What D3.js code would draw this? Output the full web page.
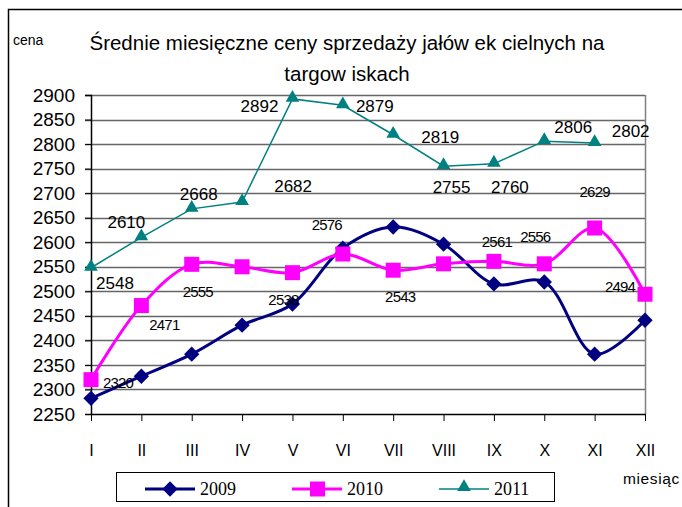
<!DOCTYPE html>
<html>
<head>
<meta charset="utf-8">
<script src="https://cdn.jsdelivr.net/npm/d3@7"></script>
<style>
  html, body { margin: 0; padding: 0; background: #fff; }
  svg { display: block; font-family: "Liberation Sans", Arial, sans-serif; }
</style>
</head>
<body>
<svg id="chart" width="682" height="507"></svg>
<script>
// ---- data ----
const months = ["I","II","III","IV","V","VI","VII","VIII","IX","X","XI","XII"];
const yTicks = [2250,2300,2350,2400,2450,2500,2550,2600,2650,2700,2750,2800,2850,2900];
const s2009 = [2282, 2327, 2372, 2431, 2474, 2588, 2631, 2596, 2515, 2519, 2372, 2441];
const s2010 = [2320, 2471, 2555, 2550, 2538, 2576, 2543, 2556, 2561, 2556, 2629, 2494];
const s2011 = [2548, 2610, 2668, 2682, 2892, 2879, 2819, 2755, 2760, 2806, 2802, null];
const labels2010 = ["2320","2471","2555",null,"2538","2576","2543",null,"2561","2556","2629","2494"];
const labels2011 = ["2548","2610","2668","2682","2892","2879","2819","2755","2760","2806","2802",null];
const seriesNames = ["2009","2010","2011"];

// label offsets (dx, dy relative to the point)
const off2010 = [[27,8],[23,24],[6,33],null,[-9,32],[-16,-24],[7,32],null,[3,-14],[-9,-22],[0,-31],[-25,-2]];
const off2011 = [[24,21],[-15,-9],[7,-9],[51,-10],[-33,13],[32,7],[47,8],[8,27],[16,29],[29,-8],[36,-6],null];

const svg = d3.select("#chart");
const X0 = 91, X1 = 645, Y0 = 414, Y1 = 95;
const x = d3.scalePoint().domain(months).range([X0, X1]);
const y = d3.scaleLinear().domain([2250, 2900]).range([Y0, Y1]);

// outer frame (left and top edges)
svg.append("path").attr("d", "M8.5,507 V9.5 H682").attr("fill","none").attr("stroke","#000").attr("stroke-width",1.5);

// gridlines
svg.append("g").selectAll("line").data(yTicks.slice(1)).join("line")
  .attr("x1", X0 - 6).attr("x2", X1)
  .attr("y1", d => Math.round(y(d)) + 0.5).attr("y2", d => Math.round(y(d)) + 0.5)
  .attr("stroke", "#666").attr("stroke-width", 1.5);
// right border of plot
svg.append("line").attr("x1", X1 + 0.5).attr("x2", X1 + 0.5).attr("y1", y(2900)).attr("y2", Y0)
  .attr("stroke", "#808080").attr("stroke-width", 1.5);

// y axis
const yAxis = d3.axisLeft(y).tickValues(yTicks).tickSize(6).tickPadding(10).tickFormat(d3.format("d"));
const gy = svg.append("g").attr("transform", `translate(${X0},0)`).call(yAxis);
gy.select(".domain").attr("stroke", "#000").attr("stroke-width", 1.5);
gy.selectAll(".tick line").attr("stroke", "#000");
gy.selectAll("text").attr("font-size", 19).attr("fill", "#000").attr("font-family", "Liberation Sans, Arial, sans-serif");

// x axis
const xAxis = d3.axisBottom(x).tickSize(7).tickPadding(24).tickSizeOuter(0);
const gx = svg.append("g").attr("transform", `translate(0,${Y0})`).call(xAxis);
gx.select(".domain").attr("stroke", "#000").attr("stroke-width", 1.5);
gx.selectAll(".tick line").attr("stroke", "#000");
gx.selectAll("text").attr("font-size", 16).attr("fill", "#000").attr("font-family", "Liberation Sans, Arial, sans-serif");

// lines
const smooth = d3.line().defined(d => d[1] != null).x(d => x(d[0])).y(d => y(d[1])).curve(d3.curveCatmullRom.alpha(0.5));
const straight = d3.line().defined(d => d[1] != null).x(d => x(d[0])).y(d => y(d[1]));

const col = {"2009": "#000080", "2010": "#ff00ff", "2011": "#008080"};

function pts(arr) { return months.map((m, i) => [m, arr[i]]); }

// 2009
svg.append("path").attr("d", smooth(pts(s2009))).attr("fill","none").attr("stroke", col["2009"]).attr("stroke-width", 3);
svg.append("g").selectAll("path").data(pts(s2009)).join("path")
  .attr("d", d3.symbol().type(d3.symbolDiamond2).size(150))
  .attr("transform", d => `translate(${x(d[0])},${y(d[1])})`).attr("fill", col["2009"]);

// 2010
svg.append("path").attr("d", smooth(pts(s2010))).attr("fill","none").attr("stroke", col["2010"]).attr("stroke-width", 3);
svg.append("g").selectAll("rect").data(pts(s2010)).join("rect")
  .attr("x", d => x(d[0]) - 7.5).attr("y", d => y(d[1]) - 7.5).attr("width", 15).attr("height", 15)
  .attr("fill", col["2010"]);

// 2011
svg.append("path").attr("d", straight(pts(s2011))).attr("fill","none").attr("stroke", col["2011"]).attr("stroke-width", 1.5);
svg.append("g").selectAll("path").data(pts(s2011).filter(d => d[1] != null)).join("path")
  .attr("d", d3.symbol().type(d3.symbolTriangle).size(80))
  .attr("transform", d => `translate(${x(d[0])},${y(d[1]) - 1})`).attr("fill", col["2011"]);

// data labels
svg.append("g").selectAll("text").data(months.map((m, i) => ({m, v: s2010[i], t: labels2010[i], o: off2010[i]})).filter(d => d.t))
  .join("text")
  .attr("x", d => x(d.m) + d.o[0]).attr("y", d => y(d.v) + d.o[1])
  .attr("text-anchor", "middle").attr("font-size", 15).attr("letter-spacing", -0.8).attr("fill", "#000")
  .text(d => d.t);
svg.append("g").selectAll("text").data(months.map((m, i) => ({m, v: s2011[i], t: labels2011[i], o: off2011[i]})).filter(d => d.t))
  .join("text")
  .attr("x", d => x(d.m) + d.o[0]).attr("y", d => y(d.v) + d.o[1])
  .attr("text-anchor", "middle").attr("font-size", 17).attr("fill", "#000")
  .text(d => d.t);

// title & axis titles
svg.append("text").attr("x", 347).attr("y", 50).attr("text-anchor", "middle").attr("font-size", 20.5)
  .text("Średnie miesięczne ceny sprzedaży jałów ek cielnych na");
svg.append("text").attr("x", 347).attr("y", 81).attr("text-anchor", "middle").attr("font-size", 20.5)
  .text("targow iskach");
svg.append("text").attr("x", 13).attr("y", 45).attr("font-size", 14).text("cena");
svg.append("text").attr("x", 623).attr("y", 484).attr("font-size", 15.5).attr("letter-spacing", 0.6).text("miesiąc");

// legend
const lg = svg.append("g");
lg.append("rect").attr("x", 116.5).attr("y", 472.5).attr("width", 438).attr("height", 29)
  .attr("fill", "#fff").attr("stroke", "#000").attr("stroke-width", 1);
const lgX = d3.scalePoint().domain(seriesNames).range([145, 439]);
const ly = 489;
seriesNames.forEach(n => {
  const lx = lgX(n);
  lg.append("line").attr("x1", lx).attr("x2", lx + 50).attr("y1", ly).attr("y2", ly)
    .attr("stroke", col[n]).attr("stroke-width", n === "2011" ? 1.5 : 3);
  if (n === "2009") {
    lg.append("path").attr("d", d3.symbol().type(d3.symbolDiamond2).size(150)).attr("transform", `translate(${lx+25},${ly})`).attr("fill", col[n]);
  } else if (n === "2010") {
    lg.append("rect").attr("x", lx + 18).attr("y", ly - 7.5).attr("width", 15).attr("height", 15).attr("fill", col[n]);
  } else {
    lg.append("path").attr("d", d3.symbol().type(d3.symbolTriangle).size(80)).attr("transform", `translate(${lx+25},${ly-2})`).attr("fill", col[n]);
  }
  lg.append("text").attr("x", lx + 55).attr("y", ly + 6).attr("font-family", "Liberation Serif, Times New Roman, serif")
    .attr("font-size", 18).text(n);
});
</script>
</body>
</html>
